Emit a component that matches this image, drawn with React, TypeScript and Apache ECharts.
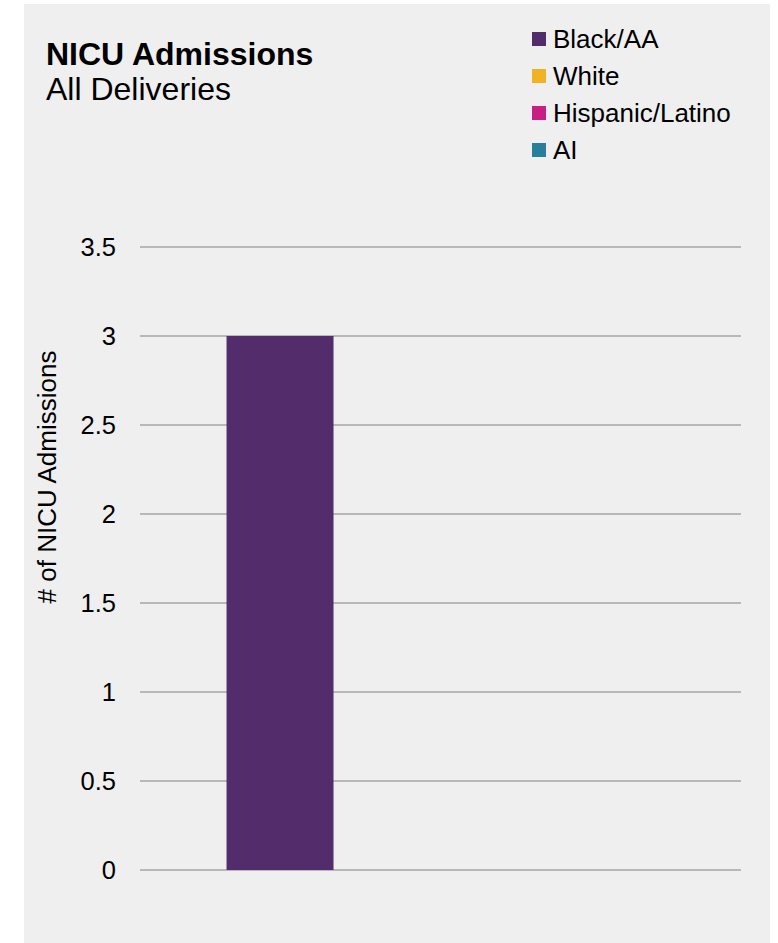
import React, { useEffect, useRef } from "react";
import * as echarts from "echarts";

const categories = ["All Deliveries"];
const seriesNames = ["Black/AA", "White", "Hispanic/Latino", "AI"];
const blackAA = [3];
const white = [0];
const hispanic = [0];
const ai = [0];
const colors = ["#532c6b", "#f1b324", "#c91e82", "#287f9b"];
const yTicks = [0, 0.5, 1, 1.5, 2, 2.5, 3, 3.5];

export default function App() {
  const ref = useRef<HTMLDivElement>(null);
  useEffect(() => {
    if (!ref.current) return;
    const chart = echarts.init(ref.current, null, { renderer: "svg" });
    const values = [blackAA, white, hispanic, ai];
    const font = "Liberation Sans, Arial, sans-serif";
    chart.setOption({
      animation: false,
      backgroundColor: "#ffffff",
      textStyle: { fontFamily: font },
      graphic: [
        {
          type: "rect",
          z: -10,
          silent: true,
          shape: { x: 24, y: 4, width: 746, height: 945 },
          style: { fill: "#efefef" },
        },
        {
          type: "text",
          x: 46,
          y: 54,
          style: {
            text: "NICU Admissions",
            fontFamily: font,
            fontSize: 32,
            fontWeight: "bold",
            fill: "#000",
            verticalAlign: "middle",
          },
        },
        {
          type: "text",
          x: 46,
          y: 89,
          style: {
            text: "All Deliveries",
            fontFamily: font,
            fontSize: 32,
            fill: "#000",
            verticalAlign: "middle",
          },
        },
        {
          type: "text",
          x: 47,
          y: 477,
          rotation: Math.PI / 2,
          style: {
            text: "# of NICU Admissions",
            fontFamily: font,
            fontSize: 26,
            fill: "#000",
            align: "center",
            verticalAlign: "middle",
          },
        },
      ],
      legend: {
        orient: "vertical",
        left: 527,
        top: 21,
        itemWidth: 14,
        itemHeight: 14,
        itemGap: 11,
        icon: "rect",
        textStyle: {
          fontSize: 26,
          lineHeight: 26,
          color: "#000",
          fontFamily: font,
          padding: [0, 0, 0, 2],
        },
        data: seriesNames,
      },
      grid: { left: 140, right: 37, top: 247, bottom: 73 },
      xAxis: {
        type: "category",
        data: categories,
        axisLine: { show: false },
        axisTick: { show: false },
        axisLabel: { show: false },
      },
      yAxis: {
        type: "value",
        min: 0,
        max: 3.5,
        interval: 0.5,
        axisLine: { show: false },
        axisTick: { show: false },
        axisLabel: {
          fontSize: 25.5,
          color: "#000",
          fontFamily: font,
          margin: 24,
          formatter: (v: number) => (yTicks.includes(v) ? String(v) : ""),
        },
        splitLine: { lineStyle: { color: "#a6a6a6", width: 1.5 } },
      },
      series: seriesNames.map((name, i) => ({
        name,
        type: "bar",
        data: values[i],
        barGap: "0%",
        barCategoryGap: "28.8%",
        itemStyle: { color: colors[i] },
      })),
    });
    return () => chart.dispose();
  }, []);
  return (
    <div
      ref={ref}
      style={{ position: "fixed", left: 0, top: 0, width: 778, height: 943 }}
    />
  );
}
